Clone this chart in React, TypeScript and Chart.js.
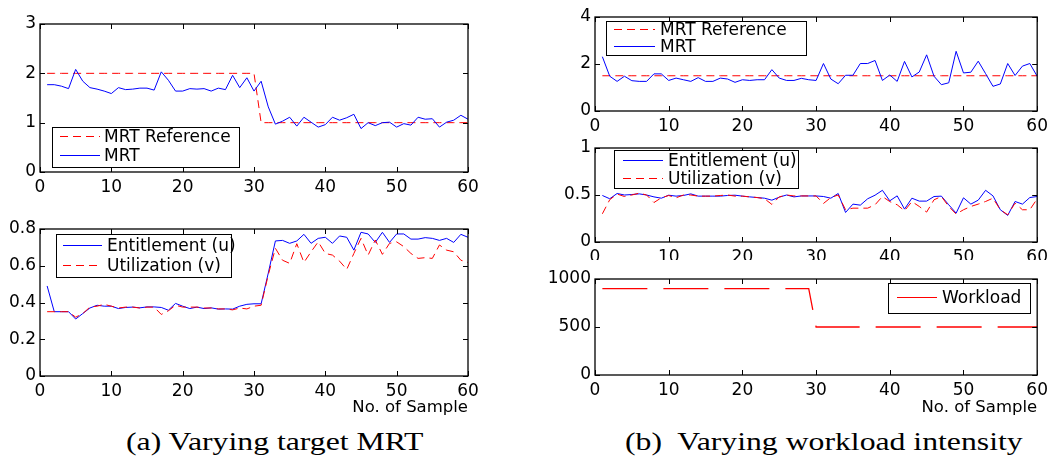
import React, { useEffect, useRef } from "react";
import { Chart, registerables } from "chart.js";

Chart.register(...registerables);

// ---------- data ----------
const samples: number[] = Array.from({ length: 60 }, (_, i) => i + 1);
const xTicks = [0, 10, 20, 30, 40, 50, 60];
const xTickLabels = ["0", "10", "20", "30", "40", "50", "60"];

// (a) Varying target MRT
const aMrtReference = [
  2, 2, 2, 2, 2, 2, 2, 2, 2, 2, 2, 2, 2, 2, 2, 2, 2, 2, 2, 2, 2, 2, 2, 2, 2, 2, 2, 2, 2, 2,
  1, 1, 1, 1, 1, 1, 1, 1, 1, 1, 1, 1, 1, 1, 1, 1, 1, 1, 1, 1, 1, 1, 1, 1, 1, 1, 1, 1, 1, 1,
];
const aMrt = [
  1.77, 1.77, 1.74, 1.69, 2.08, 1.84, 1.71, 1.68, 1.64, 1.59,
  1.71, 1.67, 1.68, 1.7, 1.7, 1.66, 2.03, 1.86, 1.64, 1.64,
  1.69, 1.68, 1.69, 1.64, 1.7, 1.67, 1.96, 1.71, 1.91, 1.64,
  1.84, 1.32, 0.97, 1.03, 1.11, 0.93, 1.11, 1.01, 0.91, 0.96,
  1.11, 1.05, 1.1, 1.17, 0.88, 1.0, 0.94, 1.0, 1.01, 0.91,
  0.98, 0.95, 1.11, 1.07, 1.08, 0.91, 1.01, 1.05, 1.15, 1.07,
];
const aEntitlement = [
  0.49, 0.35, 0.35, 0.35, 0.31, 0.34, 0.37, 0.385, 0.38, 0.38,
  0.367, 0.373, 0.375, 0.371, 0.376, 0.376, 0.373, 0.358, 0.395, 0.38,
  0.367, 0.375, 0.367, 0.371, 0.364, 0.365, 0.364, 0.38, 0.39, 0.393,
  0.393, 0.56, 0.735, 0.738, 0.722, 0.735, 0.771, 0.722, 0.749, 0.755,
  0.722, 0.762, 0.755, 0.685, 0.782, 0.773, 0.727, 0.782, 0.727, 0.773,
  0.773, 0.745, 0.745, 0.753, 0.749, 0.738, 0.749, 0.727, 0.771, 0.755,
];
const aUtilization = [
  0.35, 0.35, 0.35, 0.35, 0.32, 0.34, 0.375, 0.38, 0.39, 0.38,
  0.37, 0.375, 0.375, 0.37, 0.375, 0.375, 0.335, 0.355, 0.385, 0.375,
  0.375, 0.375, 0.37, 0.37, 0.365, 0.365, 0.36, 0.37, 0.365, 0.38,
  0.385, 0.55, 0.695, 0.63, 0.613, 0.72, 0.618, 0.676, 0.73, 0.667,
  0.658, 0.625, 0.58, 0.667, 0.749, 0.658, 0.74, 0.662, 0.722, 0.73,
  0.704, 0.667, 0.64, 0.644, 0.64, 0.713, 0.685, 0.676, 0.63, 0.618,
];

// (b) Varying workload intensity
const bMrtReference = [
  1.5, 1.5, 1.5, 1.5, 1.5, 1.5, 1.5, 1.5, 1.5, 1.5, 1.5, 1.5, 1.5, 1.5, 1.5,
  1.5, 1.5, 1.5, 1.5, 1.5, 1.5, 1.5, 1.5, 1.5, 1.5, 1.5, 1.5, 1.5, 1.5, 1.5,
  1.5, 1.5, 1.5, 1.5, 1.5, 1.5, 1.5, 1.5, 1.5, 1.5, 1.5, 1.5, 1.5, 1.5, 1.5,
  1.5, 1.5, 1.5, 1.5, 1.5, 1.5, 1.5, 1.5, 1.5, 1.5, 1.5, 1.5, 1.5, 1.5, 1.5,
];
const bMrt = [
  2.31, 1.48, 1.26, 1.48, 1.29, 1.26, 1.26, 1.58, 1.58, 1.3,
  1.4, 1.33, 1.26, 1.42, 1.26, 1.26, 1.4, 1.36, 1.22, 1.33,
  1.3, 1.33, 1.33, 1.76, 1.4, 1.3, 1.3, 1.39, 1.33, 1.3,
  2.02, 1.36, 1.16, 1.52, 1.52, 2.02, 2.02, 2.15, 1.3, 1.53,
  1.26, 2.11, 1.45, 1.66, 2.39, 1.48, 1.12, 1.2, 2.54, 1.62,
  1.65, 2.12, 1.59, 1.05, 1.15, 2.02, 1.51, 1.91, 2.02, 1.48,
];
const bEntitlement = [
  0.495, 0.46, 0.516, 0.5, 0.505, 0.512, 0.5, 0.48, 0.466, 0.498,
  0.488, 0.495, 0.512, 0.488, 0.488, 0.488, 0.488, 0.495, 0.498, 0.488,
  0.48, 0.473, 0.466, 0.445, 0.477, 0.5, 0.48, 0.49, 0.49, 0.49,
  0.484, 0.466, 0.516, 0.314, 0.403, 0.392, 0.46, 0.498, 0.55, 0.438,
  0.491, 0.35, 0.466, 0.435, 0.435, 0.484, 0.488, 0.396, 0.307, 0.47,
  0.403, 0.445, 0.55, 0.491, 0.343, 0.283, 0.431, 0.403, 0.473, 0.484,
];
const bUtilization = [
  0.3, 0.45, 0.51, 0.484, 0.5, 0.52, 0.5, 0.42, 0.47, 0.495,
  0.47, 0.5, 0.5, 0.488, 0.488, 0.488, 0.495, 0.5, 0.488, 0.488,
  0.48, 0.473, 0.46, 0.4, 0.48, 0.5, 0.49, 0.49, 0.49, 0.49,
  0.41, 0.473, 0.5, 0.343, 0.36, 0.36, 0.36, 0.396, 0.484, 0.43,
  0.396, 0.332, 0.43, 0.378, 0.318, 0.449, 0.484, 0.378, 0.297, 0.343,
  0.378, 0.403, 0.431, 0.466, 0.343, 0.29, 0.413, 0.343, 0.343, 0.46,
];
const bWorkload = [
  900, 900, 900, 900, 900, 900, 900, 900, 900, 900, 900, 900, 900, 900, 900,
  900, 900, 900, 900, 900, 900, 900, 900, 900, 900, 900, 900, 900, 900,
  500, 500, 500, 500, 500, 500, 500, 500, 500, 500, 500, 500, 500, 500, 500, 500,
  500, 500, 500, 500, 500, 500, 500, 500, 500, 500, 500, 500, 500, 500, 500,
];

const yTicksA1 = [0, 1, 2, 3];
const yLabelsA1 = ["0", "1", "2", "3"];
const yTicksA2 = [0, 0.2, 0.4, 0.6, 0.8];
const yLabelsA2 = ["0", "0.2", "0.4", "0.6", "0.8"];
const yTicksB1 = [0, 2, 4];
const yLabelsB1 = ["0", "2", "4"];
const yTicksB2 = [0, 0.5, 1];
const yLabelsB2 = ["0", "0.5", "1"];
const yTicksB3 = [0, 500, 1000];
const yLabelsB3 = ["0", "500", "1000"];

// ---------- styling / layout ----------
const SANS = "'DejaVu Sans', sans-serif";
const BLUE = "#0000ff";
const RED = "#ff0000";
const DASH = [8, 5];
const LONG_DASH = [45, 16];

type Series = { label: string; values: number[]; color: string; dash: number[]; width: number };
type LegendItem = { label: string; color: string; dash: number[] };
type Panel = {
  frame: { x: number; y: number; w: number; h: number };
  plot: { l: number; t: number; r: number; b: number };
  yMin: number;
  yMax: number;
  yTicks: number[];
  yLabels: string[];
  series: Series[];
  legend: {
    box: { x: number; y: number; w: number; h: number };
    rows: number[];
    lineX: [number, number];
    textX: number;
    items: LegendItem[];
  };
  xTitle?: string;
};

const panels: Panel[] = [
  {
    frame: { x: 0, y: 0, w: 490, h: 200 },
    plot: { l: 40, t: 24, r: 468, b: 172 },
    yMin: 0, yMax: 3, yTicks: yTicksA1, yLabels: yLabelsA1,
    series: [
      { label: "MRT Reference", values: aMrtReference, color: RED, dash: DASH, width: 1 },
      { label: "MRT", values: aMrt, color: BLUE, dash: [], width: 1 },
    ],
    legend: {
      box: { x: 52, y: 127, w: 187, h: 40 },
      rows: [136.5, 155.5], lineX: [60, 100], textX: 104,
      items: [
        { label: "MRT Reference", color: RED, dash: DASH },
        { label: "MRT", color: BLUE, dash: [] },
      ],
    },
  },
  {
    frame: { x: 0, y: 200, w: 490, h: 218 },
    plot: { l: 40, t: 229, r: 468, b: 376 },
    yMin: 0, yMax: 0.8, yTicks: yTicksA2, yLabels: yLabelsA2,
    series: [
      { label: "Entitlement (u)", values: aEntitlement, color: BLUE, dash: [], width: 1 },
      { label: "Utilization (v)", values: aUtilization, color: RED, dash: DASH, width: 1 },
    ],
    legend: {
      box: { x: 56, y: 234, w: 175, h: 43 },
      rows: [245.5, 265.5], lineX: [63, 102], textX: 107,
      items: [
        { label: "Entitlement (u)", color: BLUE, dash: [] },
        { label: "Utilization (v)", color: RED, dash: DASH },
      ],
    },
    xTitle: "No. of Sample",
  },
  {
    frame: { x: 545, y: 0, w: 508, h: 132 },
    plot: { l: 595, t: 17, r: 1039, b: 111 },
    yMin: 0, yMax: 4, yTicks: yTicksB1, yLabels: yLabelsB1,
    series: [
      { label: "MRT Reference", values: bMrtReference, color: RED, dash: DASH, width: 1 },
      { label: "MRT", values: bMrt, color: BLUE, dash: [], width: 1 },
    ],
    legend: {
      box: { x: 606, y: 21, w: 200, h: 34 },
      rows: [29.5, 46.5], lineX: [614, 655], textX: 660,
      items: [
        { label: "MRT Reference", color: RED, dash: DASH },
        { label: "MRT", color: BLUE, dash: [] },
      ],
    },
  },
  {
    frame: { x: 545, y: 132, w: 508, h: 128 },
    plot: { l: 595, t: 148, r: 1039, b: 242 },
    yMin: 0, yMax: 1, yTicks: yTicksB2, yLabels: yLabelsB2,
    series: [
      { label: "Entitlement (u)", values: bEntitlement, color: BLUE, dash: [], width: 1 },
      { label: "Utilization (v)", values: bUtilization, color: RED, dash: DASH, width: 1 },
    ],
    legend: {
      box: { x: 614, y: 150, w: 184, h: 38 },
      rows: [160.5, 178.5], lineX: [623, 663], textX: 668,
      items: [
        { label: "Entitlement (u)", color: BLUE, dash: [] },
        { label: "Utilization (v)", color: RED, dash: DASH },
      ],
    },
  },
  {
    frame: { x: 545, y: 260, w: 508, h: 158 },
    plot: { l: 595, t: 279, r: 1039, b: 375 },
    yMin: 0, yMax: 1000, yTicks: yTicksB3, yLabels: yLabelsB3,
    series: [{ label: "Workload", values: bWorkload, color: RED, dash: LONG_DASH, width: 1.3 }],
    legend: {
      box: { x: 888, y: 283, w: 142, h: 30 },
      rows: [297.5], lineX: [897, 937], textX: 942,
      items: [{ label: "Workload", color: RED, dash: [] }],
    },
    xTitle: "No. of Sample",
  },
];

function SubChart({ panel }: { panel: Panel }) {
  const ref = useRef<HTMLCanvasElement | null>(null);

  useEffect(() => {
    const canvas = ref.current;
    if (!canvas) return;
    const { frame, plot } = panel;

    const boxPlugin = {
      id: "matlabBox",
      afterDatasetsDraw(chart: any) {
        const { ctx, chartArea } = chart;
        const xs = chart.scales.x;
        const ys = chart.scales.y;
        const { left, right, top, bottom } = chartArea;
        ctx.save();
        ctx.strokeStyle = "#000";
        ctx.lineWidth = 1.3;
        ctx.setLineDash([]);
        ctx.strokeRect(left, top, right - left, bottom - top);
        ctx.lineWidth = 1;
        const tl = 5;
        ctx.beginPath();
        xTicks.forEach((v) => {
          const px = Math.round(xs.getPixelForValue(v)) + 0.5;
          ctx.moveTo(px, bottom);
          ctx.lineTo(px, bottom - tl);
          ctx.moveTo(px, top);
          ctx.lineTo(px, top + tl);
        });
        panel.yTicks.forEach((v) => {
          const py = Math.round(ys.getPixelForValue(v)) + 0.5;
          ctx.moveTo(left, py);
          ctx.lineTo(left + tl, py);
          ctx.moveTo(right, py);
          ctx.lineTo(right - tl, py);
        });
        ctx.stroke();
        ctx.restore();
      },
    };

    const legendPlugin = {
      id: "matlabLegend",
      afterDraw(chart: any) {
        const { ctx } = chart;
        const lg = panel.legend;
        const ox = frame.x;
        const oy = frame.y;
        ctx.save();
        ctx.fillStyle = "#fff";
        ctx.fillRect(lg.box.x - ox, lg.box.y - oy, lg.box.w, lg.box.h);
        ctx.strokeStyle = "#000";
        ctx.lineWidth = 1;
        ctx.setLineDash([]);
        ctx.strokeRect(lg.box.x - ox + 0.5, lg.box.y - oy + 0.5, lg.box.w, lg.box.h);
        lg.items.forEach((it, i) => {
          const y = lg.rows[i] - oy;
          ctx.beginPath();
          ctx.strokeStyle = it.color;
          ctx.lineWidth = 1;
          ctx.setLineDash(it.dash);
          ctx.moveTo(lg.lineX[0] - ox, y);
          ctx.lineTo(lg.lineX[1] - ox, y);
          ctx.stroke();
          ctx.setLineDash([]);
          ctx.fillStyle = "#000";
          ctx.font = `17px ${SANS}`;
          ctx.textBaseline = "middle";
          ctx.textAlign = "left";
          ctx.fillText(it.label, lg.textX - ox, y + 1.5);
        });
        ctx.restore();
      },
    };

    const n = panel.series.length;
    const chart = new Chart(canvas, {
      type: "line",
      data: {
        datasets: panel.series.map((s, i) => ({
          label: s.label,
          data: samples.map((x, j) => ({ x, y: s.values[j] })),
          borderColor: s.color,
          backgroundColor: s.color,
          borderWidth: s.width,
          borderDash: s.dash,
          pointRadius: 0,
          fill: false,
          tension: 0,
          order: n - i,
        })),
      },
      options: {
        responsive: false,
        animation: false,
        events: [],
        layout: {
          padding: {
            left: 0,
            top: plot.t - frame.y,
            right: frame.x + frame.w - plot.r,
            bottom: 0,
          },
        },
        plugins: {
          legend: { display: false },
          tooltip: { enabled: false },
          title: { display: false },
        },
        scales: {
          x: {
            type: "linear",
            min: 0,
            max: 60,
            afterBuildTicks: (s: any) => {
              s.ticks = xTicks.map((v) => ({ value: v }));
            },
            afterFit: (s: any) => {
              s.height = frame.y + frame.h - plot.b;
            },
            grid: { display: false, drawTicks: false, tickLength: 0 },
            border: { display: false },
            ticks: {
              autoSkip: false,
              maxRotation: 0,
              padding: 5,
              color: "#000",
              font: { family: SANS, size: 17, lineHeight: 1.2 },
              callback: (_v: any, i: number) => xTickLabels[i],
            },
            title: {
              display: !!panel.xTitle,
              text: panel.xTitle || "",
              align: "end",
              color: "#000",
              padding: { top: 0, bottom: 0 },
              font: { family: SANS, size: 16.5, lineHeight: 1.2 },
            },
          },
          y: {
            type: "linear",
            min: panel.yMin,
            max: panel.yMax,
            afterBuildTicks: (s: any) => {
              s.ticks = panel.yTicks.map((v) => ({ value: v }));
            },
            afterFit: (s: any) => {
              s.width = plot.l - frame.x;
            },
            grid: { display: false, drawTicks: false, tickLength: 0 },
            border: { display: false },
            ticks: {
              autoSkip: false,
              padding: 4,
              color: "#000",
              font: { family: SANS, size: 17, lineHeight: 1.2 },
              callback: (_v: any, i: number) => panel.yLabels[i],
            },
          },
        },
      },
      plugins: [boxPlugin, legendPlugin],
    } as any);

    return () => chart.destroy();
  }, [panel]);

  return (
    <canvas
      ref={ref}
      width={panel.frame.w}
      height={panel.frame.h}
      style={{
        position: "absolute",
        left: panel.frame.x,
        top: panel.frame.y,
        width: panel.frame.w,
        height: panel.frame.h,
      }}
    />
  );
}

const captionStyle: React.CSSProperties = {
  position: "absolute",
  fontFamily: "'Liberation Serif', 'Times New Roman', serif",
  fontSize: 26,
  lineHeight: "26px",
  whiteSpace: "pre",
  color: "#000",
  transform: "scaleX(1.22)",
  transformOrigin: "left top",
};

export default function App() {
  return (
    <div
      style={{
        position: "absolute",
        left: 0,
        top: 0,
        width: 1053,
        height: 459,
        background: "#fff",
        overflow: "hidden",
      }}
    >
      {panels.map((p, i) => (
        <SubChart key={i} panel={p} />
      ))}
      <div style={{ ...captionStyle, left: 126, top: 429 }}>(a) Varying target MRT</div>
      <div style={{ ...captionStyle, left: 625, top: 429 }}>(b)  Varying workload intensity</div>
    </div>
  );
}
